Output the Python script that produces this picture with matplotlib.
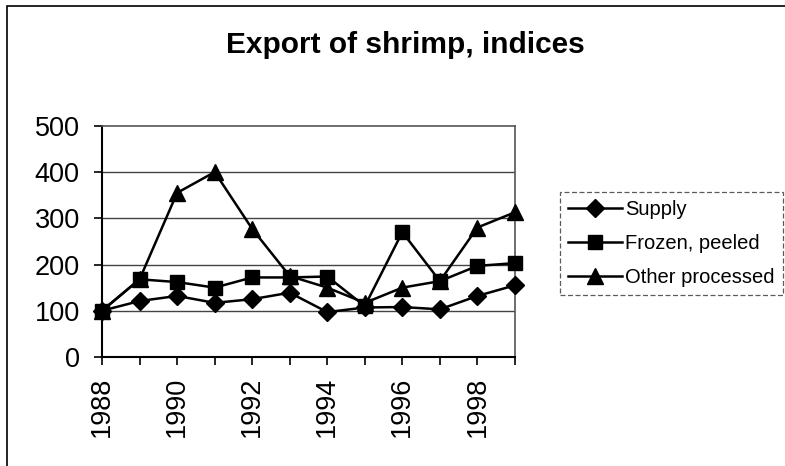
import matplotlib
matplotlib.use("Agg")
import matplotlib.pyplot as plt
from matplotlib.patches import Rectangle

years = [1988, 1989, 1990, 1991, 1992, 1993, 1994, 1995, 1996, 1997, 1998, 1999]
supply = [100, 121, 132, 117, 125, 139, 97, 107, 108, 103, 132, 155]
frozen_peeled = [100, 168, 162, 150, 172, 172, 174, 110, 270, 164, 197, 203]
other_processed = [100, 168, 355, 400, 277, 175, 150, 117, 150, 164, 280, 313]
series_names = ["Supply", "Frozen, peeled", "Other processed"]
yticks = [0, 100, 200, 300, 400, 500]
xlabel_years = [1988, 1990, 1992, 1994, 1996, 1998]

plt.rcParams['font.family'] = ['Liberation Sans', 'DejaVu Sans']

fig = plt.figure(figsize=(7.85, 4.66), dpi=100)
ax = fig.add_axes([0.130, 0.234, 0.526, 0.496])

lw = 1.8
ax.plot(years, supply, color='black', lw=lw, marker='D', markersize=9, label=series_names[0], clip_on=False, zorder=5)
ax.plot(years, frozen_peeled, color='black', lw=lw, marker='s', markersize=10, label=series_names[1], clip_on=False, zorder=5)
ax.plot(years, other_processed, color='black', lw=lw, marker='^', markersize=12, label=series_names[2], clip_on=False, zorder=5)

ax.set_xlim(years[0], years[-1])
ax.set_ylim(0, 500)
ax.set_yticks(yticks)
ax.set_yticklabels([str(v) for v in yticks], fontsize=19.5)
ax.set_xticks(years)
ax.set_xticklabels([str(y) if y in xlabel_years else "" for y in years], rotation=90, fontsize=19.5)
ax.tick_params(axis='both', direction='out', length=6, width=1.2, color='black')
ax.tick_params(axis='x', pad=8)
ax.tick_params(axis='y', pad=10)

for v in yticks[1:-1]:
    ax.axhline(v, color='#444444', lw=1.0, zorder=1)

for s in ['left', 'bottom']:
    ax.spines[s].set_color('black')
    ax.spines[s].set_linewidth(1.5)
for s in ['top', 'right']:
    ax.spines[s].set_color('#555555')
    ax.spines[s].set_linewidth(1.2)
    ax.spines[s].set_linestyle((0, (2, 1)))

fig.text(0.516, 0.903, "Export of shrimp, indices", ha='center', va='center', fontsize=21.5, fontweight='bold')

leg = fig.legend(loc='upper left', bbox_to_anchor=(0.713, 0.588), fontsize=14.5,
                 frameon=True, fancybox=False, edgecolor='#333333', handlelength=2.7,
                 handletextpad=0.15, labelspacing=0.75, borderpad=0.4, borderaxespad=0)
leg.get_frame().set_linewidth(0.9)
leg.get_frame().set_linestyle((0, (4, 2)))

fig.patches.append(Rectangle((7/785, -0.01), 1.0, 1 - 6/466 + 0.01, transform=fig.transFigure,
                             fill=False, edgecolor='black', lw=1.2))

fig.savefig("out.png", dpi=100)
